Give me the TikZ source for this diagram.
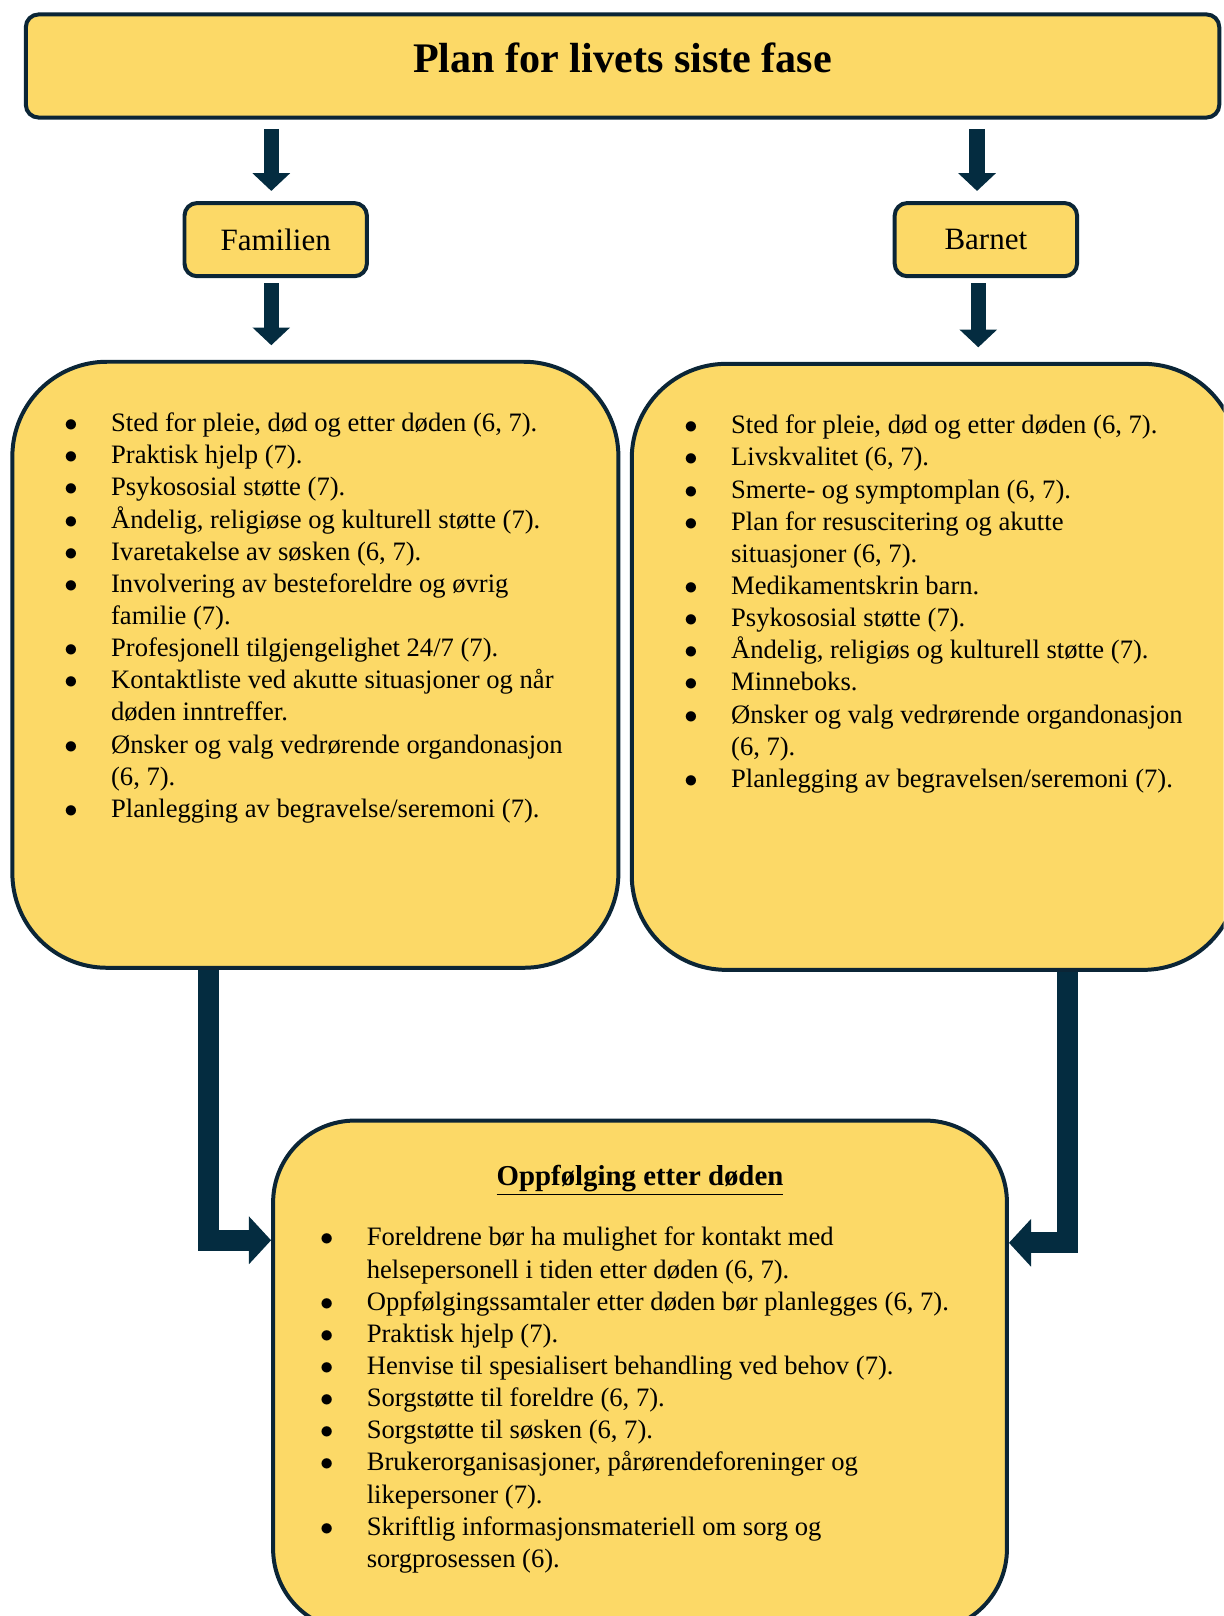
\documentclass[tikz,border=0pt]{standalone}
\usepackage{fontspec}
\setmainfont{Liberation Serif}
\usetikzlibrary{arrows.meta}
\definecolor{gul}{HTML}{FCD967}
\definecolor{marine}{HTML}{0B2536}
\definecolor{pilfarge}{HTML}{042C40}
\begin{document}
\begin{tikzpicture}[
    boks/.style={draw=marine,line width=1.8pt,fill=gul,inner sep=0pt,rounded corners=#1},
    boks/.default=0.2cm,
    liste/.style={anchor=base west,inner sep=0pt,font=\fontsize{12}{14.5}\selectfont},
    pil/.style={draw=pilfarge,line width=7pt,-{Triangle[width=16.5pt,length=8pt]}},
    knekkpil/.style={draw=pilfarge,line width=9.5pt,line join=miter,-{Triangle[width=21pt,length=10pt]}}]
    \useasboundingbox (0,0) rectangle (19.40,-25.62);
    \clip (0,0) rectangle (19.40,-25.62);
    % boksene
    \node[boks,minimum width=18.92cm,minimum height=1.634cm,text height=13.3pt,text depth=7.7pt,
        font=\fontsize{19}{23}\selectfont\bfseries] (tittel) at (9.87,-1.046) {Plan for livets siste fase};
    \node[boks,minimum width=2.892cm,minimum height=1.16cm,font=\fontsize{14}{17}\selectfont] (fam) at (4.371,-3.799) {Familien};
    \node[boks,minimum width=2.892cm,minimum height=1.16cm,font=\fontsize{14}{17}\selectfont] (barn) at (15.63,-3.799) {Barnet};
    \node[boks=1.5cm,minimum width=9.608cm,minimum height=9.608cm] (famliste) at (5.0,-10.539) {};
    \node[boks=1.5cm,minimum width=9.608cm,minimum height=9.608cm] (barnliste) at (14.82,-10.572) {};
    \node[boks=1.3cm,minimum width=11.634cm,minimum height=8.09cm] (oppf) at (10.147,-21.81) {};
    % pilene
    \draw[pil,shorten <=0.15cm,shorten >=0.16cm] ([xshift=-0.07cm]tittel.south -| fam.north) -- ([xshift=-0.07cm]fam.north);
    \draw[pil,shorten <=0.15cm,shorten >=0.16cm] ([xshift=-0.14cm]tittel.south -| barn.north) -- ([xshift=-0.14cm]barn.north);
    \draw[pil,shorten <=0.08cm,shorten >=0.23cm] ([xshift=-0.07cm]fam.south) -- ([xshift=-0.07cm]fam.south |- famliste.north);
    \draw[pil,shorten <=0.08cm,shorten >=0.23cm] ([xshift=-0.12cm]barn.south) -- ([xshift=-0.12cm]barn.south |- barnliste.north);
    \draw[knekkpil] ([xshift=3.137cm]famliste.south west) |- ([yshift=-1.93cm]oppf.north west);
    \draw[knekkpil] ([xshift=6.935cm]barnliste.south west) |- ([yshift=-1.97cm]oppf.north east);
    % tekstene
    \node[liste] (famtekst) at ([xshift=0.85cm,yshift=-1.14cm]famliste.north west) {\begin{tabular}[t]{@{}p{0.74cm}@{}l@{}}
        $\bullet$ & Sted for pleie, død og etter døden (6, 7).\\
        $\bullet$ & Praktisk hjelp (7).\\
        $\bullet$ & Psykososial støtte (7).\\
        $\bullet$ & Åndelig, religiøse og kulturell støtte (7).\\
        $\bullet$ & Ivaretakelse av søsken (6, 7).\\
        $\bullet$ & Involvering av besteforeldre og øvrig\\
                  & familie (7).\\
        $\bullet$ & Profesjonell tilgjengelighet 24/7 (7).\\
        $\bullet$ & Kontaktliste ved akutte situasjoner og når\\
                  & døden inntreffer.\\
        $\bullet$ & Ønsker og valg vedrørende organdonasjon\\
                  & (6, 7).\\
        $\bullet$ & Planlegging av begravelse/seremoni (7).
    \end{tabular}};
    \node[liste] (barntekst) at ([xshift=0.86cm,yshift=-1.14cm]barnliste.north west) {\begin{tabular}[t]{@{}p{0.74cm}@{}l@{}}
        $\bullet$ & Sted for pleie, død og etter døden (6, 7).\\
        $\bullet$ & Livskvalitet (6, 7).\\
        $\bullet$ & Smerte- og symptomplan (6, 7).\\
        $\bullet$ & Plan for resuscitering og akutte\\
                  & situasjoner (6, 7).\\
        $\bullet$ & Medikamentskrin barn.\\
        $\bullet$ & Psykososial støtte (7).\\
        $\bullet$ & Åndelig, religiøs og kulturell støtte (7).\\
        $\bullet$ & Minneboks.\\
        $\bullet$ & Ønsker og valg vedrørende organdonasjon\\
                  & (6, 7).\\
        $\bullet$ & Planlegging av begravelsen/seremoni (7).
    \end{tabular}};
    \node[anchor=base,inner sep=0pt,font=\fontsize{13}{15}\selectfont\bfseries] (oppftittel) at ([yshift=-1.06cm]oppf.north) {\underline{Oppfølging etter døden}};
    \node[liste] (oppftekst) at ([xshift=0.77cm,yshift=-2.02cm]oppf.north west) {\begin{tabular}[t]{@{}p{0.74cm}@{}l@{}}
        $\bullet$ & Foreldrene bør ha mulighet for kontakt med\\
                  & helsepersonell i tiden etter døden (6, 7).\\
        $\bullet$ & Oppfølgingssamtaler etter døden bør planlegges (6, 7).\\
        $\bullet$ & Praktisk hjelp (7).\\
        $\bullet$ & Henvise til spesialisert behandling ved behov (7).\\
        $\bullet$ & Sorgstøtte til foreldre (6, 7).\\
        $\bullet$ & Sorgstøtte til søsken (6, 7).\\
        $\bullet$ & Brukerorganisasjoner, pårørendeforeninger og\\
                  & likepersoner (7).\\
        $\bullet$ & Skriftlig informasjonsmateriell om sorg og\\
                  & sorgprosessen (6).
    \end{tabular}};
\end{tikzpicture}
\end{document}
